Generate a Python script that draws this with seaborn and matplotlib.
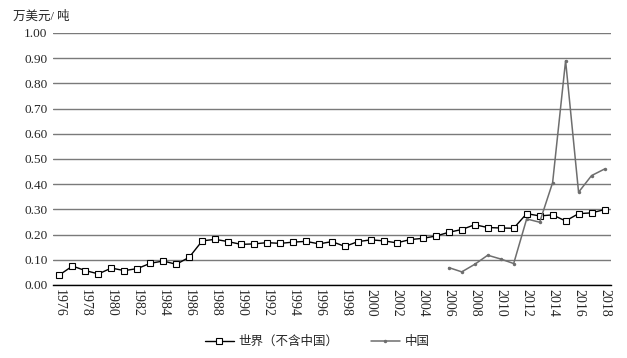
import matplotlib
matplotlib.use('Agg')
from matplotlib import pyplot as plt
import matplotlib.ticker as mticker
import pandas as pd
import seaborn as sns

# Data (万美元/吨)
years_world = list(range(1976, 2019))
world_price = [0.040, 0.075, 0.057, 0.044, 0.067, 0.057, 0.065, 0.086, 0.095, 0.082,
               0.110, 0.175, 0.181, 0.172, 0.161, 0.163, 0.168, 0.165, 0.170, 0.173,
               0.163, 0.172, 0.153, 0.172, 0.179, 0.175, 0.167, 0.180, 0.185, 0.194,
               0.209, 0.220, 0.239, 0.228, 0.226, 0.225, 0.283, 0.274, 0.278, 0.254,
               0.283, 0.286, 0.299]
years_china = list(range(2006, 2019))
china_price = [0.069, 0.052, 0.082, 0.118, 0.103, 0.085, 0.262, 0.249, 0.406, 0.890,
               0.368, 0.434, 0.460]

label_world = '世界（不含中国）'
label_china = '中国'
ylabel_text = '万美元/ 吨'

df_world = pd.DataFrame({'year': years_world, 'price': world_price})
df_china = pd.DataFrame({'year': years_china, 'price': china_price})

sns.set_theme(style='white')
plt.rcParams['font.family'] = ['Liberation Serif', 'Noto Sans CJK SC']

fig = plt.figure(figsize=(6.27, 3.58), dpi=100)
ax = fig.add_axes([0.0845, 0.204, 0.89, 0.704])

ax.yaxis.grid(True, color='#7a7a7a', linewidth=1.0)
ax.set_axisbelow(True)

sns.lineplot(data=df_world, x='year', y='price', ax=ax, color='black', linewidth=1.0,
             marker='s', markersize=4.2, markerfacecolor='white', markeredgecolor='black',
             markeredgewidth=0.8, label=label_world)
sns.lineplot(data=df_china, x='year', y='price', ax=ax, color='#6e6e6e', linewidth=1.1,
             marker='o', markersize=2.5, markeredgewidth=0, label=label_china)

ax.set_xlim(1975.5, 2018.5)
ax.set_ylim(0, 1.0)
ax.set_xticks(range(1976, 2019, 2))
ax.set_yticks([i / 10 for i in range(11)])
ax.yaxis.set_major_formatter(mticker.FormatStrFormatter('%.2f'))
ax.tick_params(axis='x', labelrotation=-90, labelsize=10, length=0, pad=3)
ax.tick_params(axis='y', labelsize=9.5, length=0, pad=4)
ax.set_xlabel('')
ax.set_ylabel('')

for side in ['left', 'right', 'top']:
    ax.spines[side].set_visible(False)
ax.spines['bottom'].set_color('black')
ax.spines['bottom'].set_linewidth(1.0)

fig.text(0.021, 0.952, ylabel_text, fontsize=9, va='center', ha='left')

handles, labels = ax.get_legend_handles_labels()
ax.get_legend().remove()
fig.legend(handles, labels, loc='center', bbox_to_anchor=(0.506, 0.045), ncol=2,
           frameon=False, fontsize=9, handlelength=2.3, handletextpad=0.4,
           columnspacing=2.6, borderpad=0)

fig.savefig('out.png', dpi=100)
